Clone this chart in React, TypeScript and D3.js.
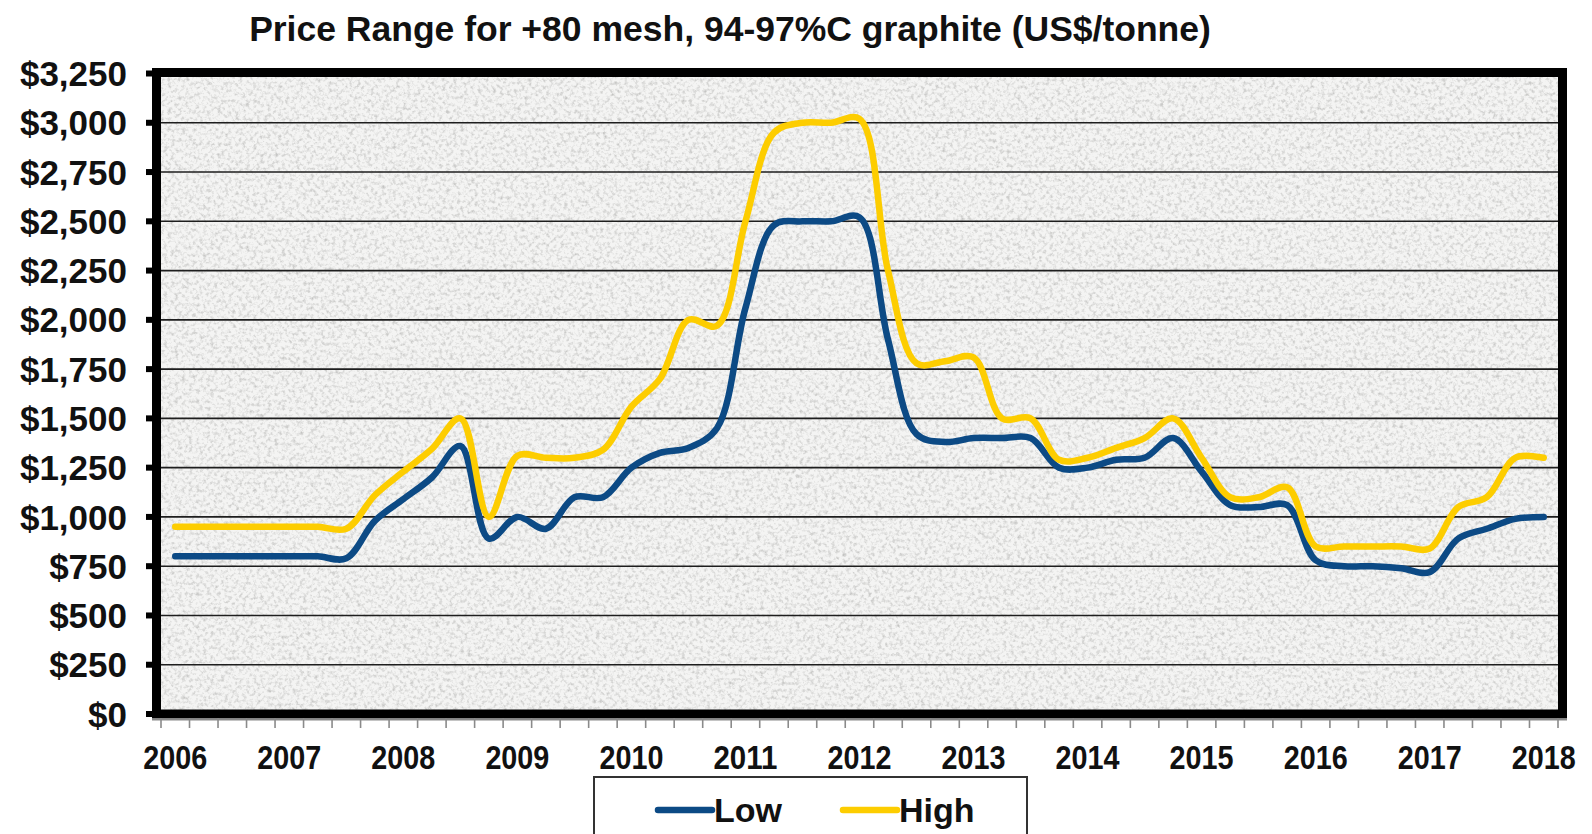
import React from "react";
import * as d3 from "d3";

// year labels on the category axis (one label every 4 quarters)
const yearLabels = ["2006", "2007", "2008", "2009", "2010", "2011", "2012", "2013", "2014", "2015", "2016", "2017", "2018"];
const quarters = yearLabels.flatMap((y) => (y === "2018" ? [y + " Q1"] : [y + " Q1", y + " Q2", y + " Q3", y + " Q4"]));

// US$/tonne, quarterly
const lowPrices = [
  800, 800, 800, 800, 800, 800, 790, 980, 1090, 1200, 1360, 890, 1000, 940, 1100, 1100,
  1250, 1325, 1350, 1450, 2060, 2480, 2500, 2500, 2520, 1900, 1420, 1380, 1400, 1400, 1400, 1250,
  1250, 1290, 1300, 1400, 1230, 1060, 1050, 1060, 780, 750, 750, 740, 720, 890, 940, 990,
  1000,
];
const highPrices = [
  950, 950, 950, 950, 950, 950, 940, 1110, 1230, 1345, 1500, 1000, 1310, 1300, 1300, 1340,
  1560, 1700, 2000, 1970, 2500, 2950, 3000, 3000, 3020, 2250, 1780, 1790, 1810, 1500, 1500, 1290,
  1300, 1350, 1400, 1500, 1300, 1100, 1100, 1150, 850, 850, 850, 850, 840, 1050, 1100, 1300,
  1300,
];
const yTicks = [0, 250, 500, 750, 1000, 1250, 1500, 1750, 2000, 2250, 2500, 2750, 3000, 3250];

const seriesList = [
  { name: "Low", values: lowPrices, color: "#0c4a85" },
  { name: "High", values: highPrices, color: "#fdcd00" },
];

const W = 1592;
const H = 834;
const left = 161;
const right = 1558;
const top = 73.5;
const bottom = 714;
const font = "'Liberation Sans', Arial, sans-serif";

export default function App() {
  const x = d3.scaleBand<string>().domain(quarters).range([left, right]).paddingInner(0).paddingOuter(0);
  const y = d3.scaleLinear().domain([0, 3250]).range([bottom, top]);
  const cx = (q: string) => (x(q) ?? 0) + x.bandwidth() / 2;
  const fmt = (v: number) => "$" + d3.format(",")(v);

  const line = d3
    .line<number>()
    .x((_, i) => cx(quarters[i]))
    .y((d) => y(d))
    .curve(d3.curveCatmullRom.alpha(0.5));

  const tickXs = quarters.map((q) => x(q) ?? 0).concat([right]);

  return (
    <svg width={W} height={H} style={{ position: "absolute", left: 0, top: 0, background: "#fff" }} fontFamily={font}>
      <defs>
        <filter id="granite" x="0" y="0" width="100%" height="100%">
          <feTurbulence type="fractalNoise" baseFrequency="0.28" numOctaves="3" seed="7" />
          <feColorMatrix type="matrix" values="0 0 0 0 0.55  0 0 0 0 0.55  0 0 0 0 0.54  2.2 0 0 0 -1.0" />
        </filter>
      </defs>

      <text x={730} y={41} textAnchor="middle" fontSize={35.5} fontWeight="bold" fill="#111">
        Price Range for +80 mesh, 94-97%C graphite (US$/tonne)
      </text>

      {/* plot background */}
      <rect x={left} y={top} width={right - left} height={bottom - top} fill="#f4f4f3" />
      <rect x={left} y={top} width={right - left} height={bottom - top} fill="#fff" filter="url(#granite)" />

      {/* gridlines */}
      {yTicks.slice(1, -1).map((t) => (
        <line key={t} x1={left} x2={right} y1={y(t)} y2={y(t)} stroke="#1e1e1e" strokeWidth={1.6} />
      ))}

      {/* series */}
      {seriesList.map((s) => (
        <path key={s.name} d={line(s.values) ?? ""} fill="none" stroke={s.color} strokeWidth={6.5} strokeLinejoin="round" strokeLinecap="round" />
      ))}

      {/* frame */}
      <rect x={156.5} y={72.5} width={1406} height={641.5} fill="none" stroke="#000" strokeWidth={9} />
      <line x1={152} x2={1567} y1={719.5} y2={719.5} stroke="#8a8a8a" strokeWidth={2} />
      {tickXs.map((tx, i) => (
        <line key={i} x1={tx} x2={tx} y1={718} y2={728} stroke="#8a8a8a" strokeWidth={1.6} />
      ))}

      {/* y axis */}
      {yTicks.map((t) => (
        <g key={t}>
          <rect x={146} y={y(t) - 3} width={7} height={6} fill="#000" />
          <text x={127} y={y(t)} dy="0.36em" textAnchor="end" fontSize={35} fontWeight="bold" fill="#111">
            {fmt(t)}
          </text>
        </g>
      ))}

      {/* x axis */}
      {yearLabels.map((yr) => (
        <text key={yr} x={cx(yr + " Q1")} y={769} textAnchor="middle" fontSize={34} fontWeight="bold" fill="#111" textLength={64} lengthAdjust="spacingAndGlyphs">
          {yr}
        </text>
      ))}

      {/* legend */}
      <rect x={594} y={777} width={433} height={80} fill="#fff" stroke="#333" strokeWidth={2} />
      {seriesList.map((s, i) => {
        const lx = i === 0 ? 658 : 843;
        return (
          <g key={s.name}>
            <line x1={lx} x2={lx + 54} y1={810} y2={810} stroke={s.color} strokeWidth={6.5} strokeLinecap="round" />
            <text x={lx + 56} y={822} fontSize={34} fontWeight="bold" fill="#111">
              {s.name}
            </text>
          </g>
        );
      })}
    </svg>
  );
}
